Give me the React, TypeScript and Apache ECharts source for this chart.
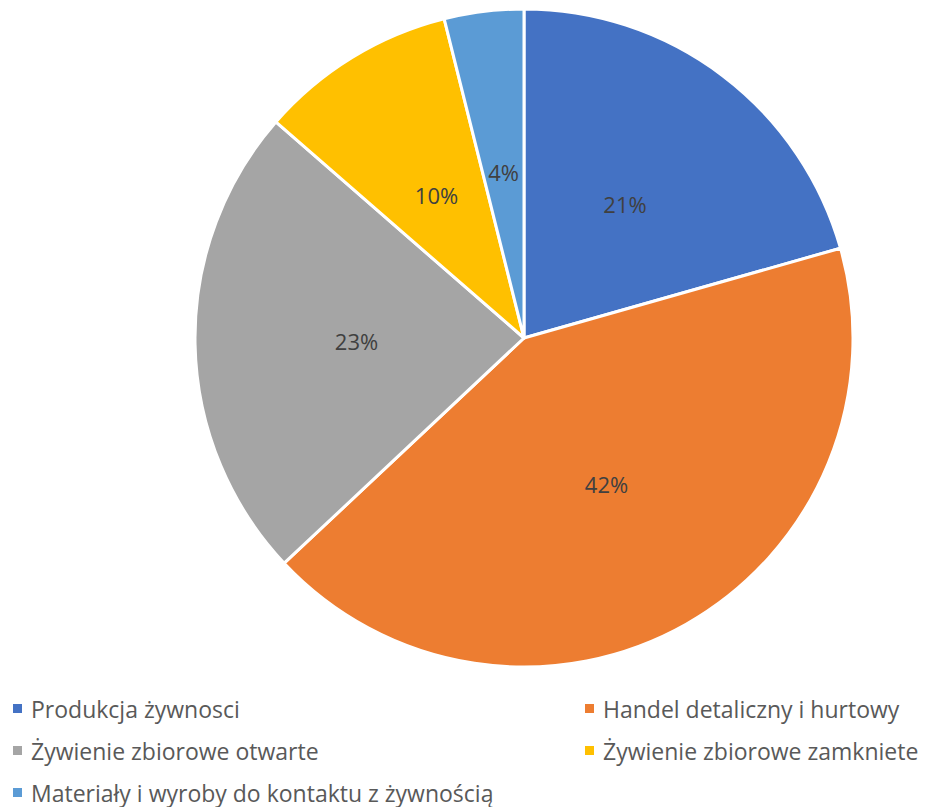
import React, { useEffect, useRef } from "react";
import * as echarts from "echarts";

const categories = [
  "Produkcja żywnosci",
  "Handel detaliczny i hurtowy",
  "Żywienie zbiorowe otwarte",
  "Żywienie zbiorowe zamkniete",
  "Materiały i wyroby do kontaktu z żywnością",
];
const values = [20.6, 42.4, 23.4, 9.7, 3.9];
const colors = ["#4472C4", "#ED7D31", "#A5A5A5", "#FFC000", "#5B9BD5"];
const leftLegend = [categories[0], categories[2], categories[4]];
const rightLegend = [categories[1], categories[3]];

const FONT = "'Open Sans', 'Noto Sans', sans-serif";

export default function App() {
  const ref = useRef<HTMLDivElement>(null);
  useEffect(() => {
    document.body.style.margin = "0";
    const chart = echarts.init(ref.current!, null, { renderer: "svg" });
    const legendCommon = {
      orient: "vertical" as const,
      icon: "rect",
      itemWidth: 11,
      itemHeight: 11,
      itemGap: 19,
      padding: 0,
      height: 200,
      selectedMode: false,
      textStyle: {
        fontFamily: FONT,
        fontSize: 23,
        color: "#595959",
        lineHeight: 23,
        padding: [0, 0, 0, 3],
      },
    };
    chart.setOption({
      animation: false,
      color: colors,
      legend: [
        { ...legendCommon, left: 11, top: 697, data: leftLegend },
        { ...legendCommon, left: 583, top: 697, data: rightLegend },
      ],
      series: [
        {
          type: "pie",
          center: [524, 338],
          radius: 329,
          startAngle: 90,
          clockwise: true,
          label: {
            position: "inside",
            fontFamily: FONT,
            fontSize: 22,
            color: "#404040",
            formatter: (p: any) => Math.round(p.percent) + "%",
          },
          labelLine: { show: false },
          itemStyle: { borderColor: "#ffffff", borderWidth: 3 },
          emphasis: { disabled: true },
          data: categories.map((name, i) => ({ name, value: values[i] })),
        },
      ],
    });
    return () => chart.dispose();
  }, []);
  return <div ref={ref} style={{ width: 925, height: 807 }} />;
}
